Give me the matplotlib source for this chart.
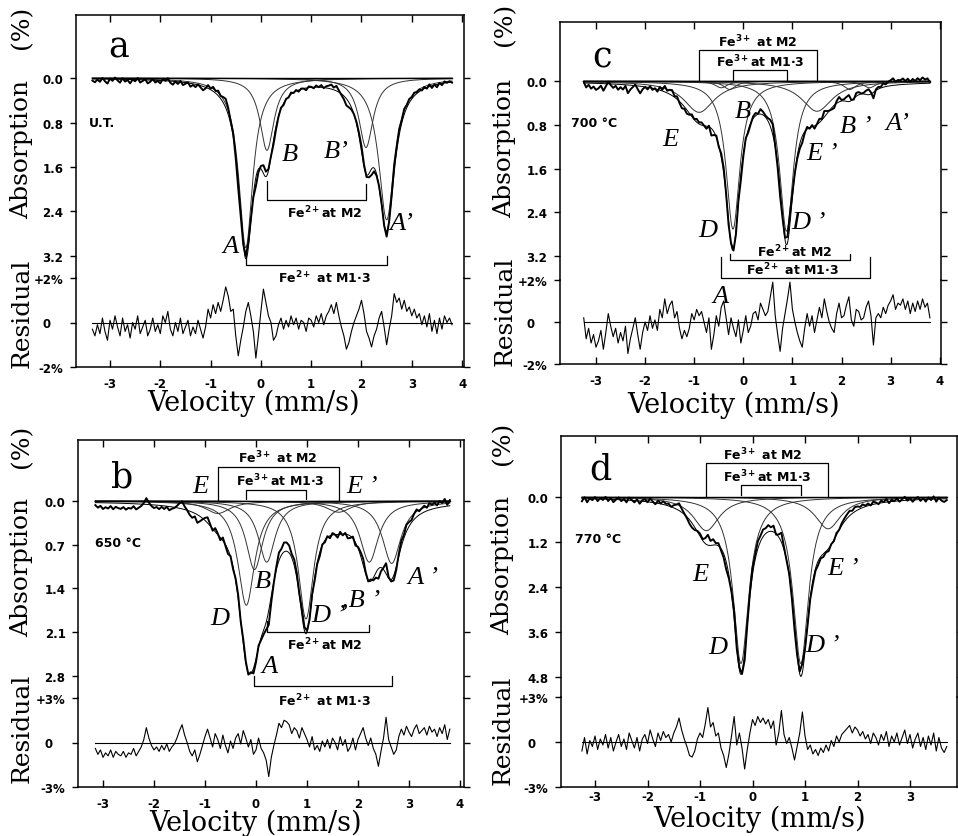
import numpy as np
import matplotlib
matplotlib.use("Agg")
import matplotlib.pyplot as plt

plt.rcParams['font.family'] = ['DejaVu Sans']
plt.rcParams['mathtext.fontset'] = 'dejavusans'

# ------------------------------------------------------------------ data
# Lorentzian sub-spectra: centre (mm/s), depth (% abs.), half width (mm/s)
a_centres = [-0.30, 2.50, 0.12, 2.09]          # A, A', B, B'
a_depths = [3.05, 2.55, 1.30, 1.25]
a_widths = [0.17, 0.19, 0.17, 0.17]

b_centres = [-0.03, 2.66, 0.21, 2.22, -0.19, 0.98, -0.75, 1.62]   # A A' B B' D D' E E'
b_depths = [1.10, 1.00, 0.98, 0.98, 1.67, 1.89, 0.20, 0.18]
b_widths = [0.20, 0.22, 0.20, 0.22, 0.20, 0.18, 0.30, 0.30]

c_centres = [-0.45, 2.57, -0.28, 2.17, -0.21, 0.88, -0.90, 1.50]  # A A' B B' D D' E E'
c_depths = [0.12, 0.12, 0.15, 0.15, 2.71, 2.75, 0.57, 0.55]
c_widths = [0.15, 0.15, 0.15, 0.15, 0.17, 0.17, 0.38, 0.38]

d_centres = [-0.22, 0.92, -0.88, 1.44]         # D D' E E'
d_depths = [4.45, 4.45, 0.90, 0.85]
d_widths = [0.18, 0.18, 0.30, 0.30]

# residuals (%) read every 0.05 mm/s
a_res_start = -3.35
a_resid = [
    -0.3, -0.6, -0.1, -0.5, 0.2, -0.4, -0.8, 0.1, -0.3, 0.3,
    -0.2, -0.6, 0.2, -0.4, -0.1, -0.7, 0.0, -0.3, 0.3, -0.5,
    -0.2, 0.1, -0.6, -0.3, 0.2, -0.4, -0.1, -0.5, 0.3, 0.0,
    0.5, -0.3, -0.6, 0.0, -0.4, 0.2, -0.5, -0.2, 0.1, -0.6,
    -0.2, -0.5, 0.1, -0.3, -0.7, -0.2, 0.6, 0.2, 0.8, 0.4,
    0.9, 0.5, 1.0, 1.6, 1.2, 0.5, 0.6, -0.6, -1.5, -0.8,
    -0.2, 0.5, 0.9, 0.3, -0.4, -1.6, -0.6, 0.5, 1.5, 0.9,
    0.3, 0.0, -0.8, -0.6, -0.1, 0.2, -0.3, 0.1, -0.2, 0.3,
    -0.1, 0.2, -0.3, 0.1, 0.0, -0.4, 0.2, 0.1, -0.2, 0.3,
    0.0, 0.4, -0.1, 0.3, 0.5, 0.8, 0.4, 0.9, 0.3, -0.2,
    -0.6, -1.2, -0.9, -0.4, 0.0, 0.3, 0.6, 1.0, 0.4, -0.4,
    -0.7, -1.1, -0.6, -0.3, 0.2, 0.5, -0.2, -1.0, -0.3, 0.3,
    1.3, 0.9, 1.1, 0.6, 1.0, 0.5, 0.7, 0.3, 0.6, 0.2,
    0.4, -0.1, 0.3, -0.2, 0.4, -0.4, 0.1, -0.5, 0.2, -0.3,
    0.3, 0.0, 0.2, -0.1]

b_res_start = -3.15
b_resid = [
    -0.4, -0.8, -0.5, -1.0, -0.7, -0.9, -0.5, -1.0, -0.6, -0.8,
    -0.9, -0.6, -1.0, -0.7, -0.8, -0.4, -0.9, -0.6, -0.3, 0.2,
    1.0, 0.3, -0.2, -0.5, -0.3, -0.6, -0.2, -0.5, -0.1, -0.6,
    -0.3, -0.1, 0.3, 0.8, 1.2, 0.5, 0.0, -0.6, -0.9, -0.5,
    -1.3, -0.8, -0.2, 0.4, 0.9, 0.3, -0.3, 0.6, 0.2, -0.4,
    0.5, -0.2, -0.7, 0.1, -0.4, 0.3, 0.6, -0.1, 0.8, 0.3,
    -0.3, 0.2, -0.8, -0.5, 0.3, -0.4, -0.7, -1.2, -2.3, -1.0,
    -0.2, 0.5, 1.3, 1.0, 1.5, 1.4, 1.2, 0.6, 1.0, 0.8,
    0.3, 1.0, 0.6, 0.2, -0.3, 0.4, -0.5, -0.2, -0.6, 0.1,
    -0.3, 0.2, -0.4, 0.3, 0.0, -0.5, 0.4, -0.2, 0.2, -0.6,
    -0.3, 0.3, -0.5, 0.2, 0.6, 1.0, 0.3, -0.2, 0.3, -0.4,
    -0.8, -1.6, -0.6, 0.3, 1.7, 0.2, -0.3, -0.8, -0.5, 0.4,
    0.9, 0.5, 1.1, 0.7, 0.4, 0.9, 1.2, 0.6, 0.8, 1.0,
    0.5, 1.1, 0.7, 0.9, 0.4, 1.0, 0.6, 1.2, 0.2, 0.9]

c_res_start = -3.25
c_resid = [
    0.2, -0.8, -0.3, -1.0, -0.6, -1.2, -0.9, -0.4, -1.3, -0.5,
    0.4, -0.2, -0.7, -0.3, -1.0, -0.5, -0.9, -0.2, -1.5, -0.8,
    -0.3, 0.2, -0.6, -1.3, -0.5, 0.0, -0.4, 0.3, -0.3, 0.1,
    -0.4, 0.6, 0.2, 1.1, 0.4, 0.8, 1.0, 0.2, 0.5, -0.3,
    -0.8, -0.4, -0.7, -0.3, 0.4, 0.1, 0.6, 0.3, 0.5, 0.0,
    -0.5, 0.2, -1.3, -0.6, 0.3, -0.2, 0.7, 1.0, 0.2, -0.6,
    0.2, -0.3, -0.7, 0.1, -1.0, -0.4, 0.3, -0.5, -0.2, 0.4,
    0.5, 0.1, 0.9, 0.6, 0.3, 0.5, 1.2, 1.9, 0.3, -0.6,
    -1.4, -0.3, 0.4, 1.1, 1.9, 0.6, 0.0, -0.5, -0.9, -1.2,
    -0.3, 0.4, -0.2, 0.3, -0.5, 0.1, 0.7, 0.2, 1.1, 0.5,
    0.0, -0.3, -0.5, 0.4, 0.9, 0.2, 0.3, 0.8, 1.2, 0.1,
    -0.2, 0.6, 0.5, 0.1, 0.2, 0.7, 1.0, 0.3, -1.1, 0.2,
    0.4, 0.2, 0.7, 0.4, 0.8, 1.0, 1.3, 0.6, 0.9, 0.8,
    1.1, 0.6, 1.0, 0.4, 0.9, 0.5, 1.0, 0.6, 1.1, 0.7,
    0.9, 0.2]

d_res_start = -3.25
d_resid = [
    -0.6, 0.3, -0.8, 0.1, -0.3, 0.4, -0.5, 0.2, -0.2, 0.5,
    -0.4, 0.3, -0.6, 0.0, 0.5, -0.3, 0.2, -0.5, 0.6, 0.1,
    -0.4, 0.3, -0.6, 0.2, 0.5, -0.1, 0.8, 0.2, -0.3, 0.6,
    0.1, 0.7, 0.3, 0.5, 0.0, 0.6, 1.0, 1.6, 0.8, 0.2,
    -0.3, -0.9, -1.0, -0.6, 0.2, 0.6, 0.3, 1.2, 2.3, 1.0,
    1.3, 0.4, 0.6, -0.4, -0.9, -1.7, -0.8, 0.4, 1.7, -0.2,
    0.6, -0.4, -1.8, -0.5, 0.6, 1.5, 1.1, 1.7, 1.3, 1.6,
    1.2, 1.5, 0.9, 1.4, -0.2, 0.6, 2.1, 0.5, -0.1, 0.3,
    -0.4, -1.2, -0.3, 0.6, 2.0, 0.4, -0.5, -0.2, -0.8, -0.5,
    -0.9, -0.4, -0.7, -0.2, -0.6, 0.1, -0.3, 0.4, 0.0, 0.5,
    0.7, 0.9, 1.1, 0.6, 1.0, 0.8, 0.4, 0.7, 0.2, 0.5,
    -0.1, 0.6, 0.3, -0.2, 0.5, 0.1, 0.7, -0.3, 0.4, 0.0,
    0.6, -0.2, 0.3, 0.8, -0.1, 0.5, -0.4, 0.2, 0.6, -0.3,
    0.3, -0.5, 0.4, -0.2, 0.6, -0.6, 0.3, -0.4, -0.7, -0.3]

a_yticks = [0.0, 0.8, 1.6, 2.4, 3.2]
b_yticks = [0.0, 0.7, 1.4, 2.1, 2.8]
c_yticks = [0.0, 0.8, 1.6, 2.4, 3.2]
d_yticks = [0.0, 1.2, 2.4, 3.6, 4.8]

# ------------------------------------------------------------------ drawing
W, H = 958, 837
fig = plt.figure(figsize=(W / 100, H / 100), dpi=100)

TICKFONT = dict(fontsize=8.5, fontweight='bold', family='DejaVu Sans')
LBL = dict(fontsize=9, fontweight='bold', family='DejaVu Sans')
ITAL = dict(fontsize=19, family='Liberation Serif', style='italic')


def px_axes(l, r, t, b):
    return fig.add_axes([l / W, 1 - b / H, (r - l) / W, (b - t) / H])


def lor(v, c, d, w):
    return d / (1.0 + ((v - c) / w) ** 2)


def panel(box, xlim, ylim, rlim, yticks, rlab, centres, depths, widths,
          res_start, resid, k, xticks, xpad=7):
    l, r, t, m, b = box
    axr = px_axes(l, r, m, b)
    ax = px_axes(l, r, t, m)
    ax.patch.set_visible(False)
    axr.patch.set_visible(False)
    ax.set_zorder(3)
    axr.set_zorder(2)
    vel = res_start + 0.05 * np.arange(len(resid))
    res = np.array(resid)
    vf = np.linspace(vel[0], vel[-1], 1200)
    fit_f = np.zeros_like(vf)
    fit_d = np.zeros_like(vel)
    for c, d, w in zip(centres, depths, widths):
        comp = lor(vf, c, d, w)
        fit_f += comp
        fit_d += lor(vel, c, d, w)
        ax.plot(vf, comp, color='0.2', lw=0.7, zorder=2)
    ax.plot([vel[0], vel[-1]], [0, 0], color='k', lw=1.0, zorder=2)
    ax.plot(vf, fit_f, color='k', lw=0.7, zorder=3)
    ax.plot(vel, fit_d - k * res, color='k', lw=1.4, zorder=4)
    axr.plot([vel[0], vel[-1]], [0, 0], color='k', lw=0.8)
    axr.plot(vel, res, color='k', lw=0.8)

    for a in (ax, axr):
        a.set_xlim(*xlim)
        for s in a.spines.values():
            s.set_linewidth(1.1)
    ax.set_ylim(*ylim)
    axr.set_ylim(*rlim)
    ax.spines['bottom'].set_visible(False)
    axr.spines['top'].set_visible(False)

    ax.set_xticks(xticks)
    ax.tick_params(axis='x', bottom=False, top=True, labelbottom=False,
                   direction='in', length=5, width=1)
    ax.set_yticks(yticks)
    ax.set_yticklabels(['%.1f' % y for y in yticks], **TICKFONT)
    ax.tick_params(axis='y', left=True, right=True, direction='out',
                   length=4, width=1, pad=5)

    axr.set_xticks(xticks)
    axr.set_xticklabels(['%d' % x for x in xticks], **TICKFONT)
    axr.tick_params(axis='x', bottom=True, top=False, direction='in',
                    length=5, width=1, pad=xpad)
    axr.set_yticks([rlim[1], 0, rlim[0]])
    axr.set_yticklabels(rlab, **TICKFONT)
    axr.tick_params(axis='y', left=True, right=True, direction='out',
                    length=4, width=1, pad=5)
    return ax, axr


def bracket(ax, x1, x2, y, e1, e2):
    ax.plot([x1, x1, x2, x2], [e1, y, y, e2], color='k', lw=0.9,
            clip_on=False, zorder=5)


def fe(ax, s, x, y, va='center'):
    ax.text(x, y, s, ha='center', va=va, clip_on=False, zorder=6, **LBL)


def it(ax, s, x, y):
    ax.text(x, y, s, ha='center', va='center', clip_on=False, zorder=6, **ITAL)


def big(ax, s, x, y):
    ax.text(x, y, s, ha='center', va='center', fontsize=25,
            family='DejaVu Serif')


def ylabel(x, yr, ya, yp):
    kw = dict(rotation=90, ha='center', va='center', family='DejaVu Serif',
              fontsize=18)
    fig.text(x / W, 1 - yr / H, 'Residual', **kw)
    fig.text(x / W, 1 - ya / H, 'Absorption', **kw)
    fig.text(x / W, 1 - yp / H, '(%)', **kw)


def xlabel(x, y):
    fig.text(x / W, 1 - y / H, 'Velocity (mm/s)', ha='center', va='center',
             family='DejaVu Serif', fontsize=19.5)


FE2M2 = 'Fe$^{\\mathbf{2+}}$at M2'
FE2M13 = 'Fe$^{\\mathbf{2+}}$ at M1·3'
FE3M2 = 'Fe$^{\\mathbf{3+}}$ at M2'
FE3M13 = 'Fe$^{\\mathbf{3+}}$at M1·3'

# ---------------- panel a
ax, axr = panel((76, 464, 16, 279, 368), (-3.676, 4.038), (3.596, -1.133),
                (-2, 2), a_yticks, ['+2%', '0   ', '-2%'],
                a_centres, a_depths, a_widths, a_res_start, a_resid, 0.10,
                list(range(-3, 5)))
big(ax, 'a', -2.82, -0.56)
ax.text(-3.42, 0.80, 'U.T.', ha='left', va='center', **LBL)
it(ax, 'B', 0.58, 1.37)
it(ax, 'B’', 1.49, 1.31)
it(ax, 'A', -0.61, 3.02)
it(ax, 'A’', 2.80, 2.60)
bracket(ax, a_centres[2], a_centres[3], 2.19, 1.85, 1.90)
fe(ax, FE2M2, 1.27, 2.41)
bracket(ax, a_centres[0], a_centres[1], 3.36, 3.20, 3.20)
fe(ax, FE2M13, 1.27, 3.58)
ylabel(22, 313, 149, 27)
xlabel(254, 403)

# ---------------- panel c
ax, axr = panel((560, 941, 23, 281, 365), (-3.733, 4.026), (3.643, -1.086),
                (-2, 2), c_yticks, ['+2%', '0   ', '-2%'],
                c_centres, c_depths, c_widths, c_res_start, c_resid, 0.10,
                list(range(-3, 5)))
big(ax, 'c', -2.88, -0.46)
ax.text(-3.51, 0.75, '700 °C', ha='left', va='center', **LBL)
bracket(ax, c_centres[6], c_centres[7], -0.57, 0.0, 0.0)
fe(ax, FE3M2, 0.30, -0.59, va='bottom')
bracket(ax, c_centres[4], c_centres[5], -0.20, -0.03, -0.03)
fe(ax, FE3M13, 0.35, -0.22, va='bottom')
bracket(ax, c_centres[2], c_centres[3], 3.27, 3.17, 3.17)
fe(ax, FE2M2, 1.05, 3.26, va='bottom')
bracket(ax, c_centres[0], c_centres[1], 3.60, 3.23, 3.23)
fe(ax, FE2M13, 1.01, 3.59, va='bottom')
it(ax, 'E', -1.48, 1.05)
it(ax, 'B', -0.01, 0.54)
it(ax, 'B ’', 2.28, 0.82)
it(ax, 'A’', 3.14, 0.76)
it(ax, 'E ’', 1.60, 1.31)
it(ax, 'D', -0.72, 2.72)
it(ax, 'D ’', 1.33, 2.58)
it(ax, 'A', -0.46, 3.94)
ylabel(505, 311, 148, 24)
xlabel(734, 405)

# ---------------- panel b
ax, axr = panel((78, 464, 441, 699, 788), (-3.49, 4.078), (3.156, -0.977),
                (-3, 3), b_yticks, ['+3%', '0   ', '-3%'],
                b_centres, b_depths, b_widths, b_res_start, b_resid, 0.10,
                list(range(-3, 5)))
big(ax, 'b', -2.63, -0.40)
ax.text(-3.16, 0.66, '650 °C', ha='left', va='center', **LBL)
bracket(ax, b_centres[6], b_centres[7], -0.55, 0.0, 0.0)
fe(ax, FE3M2, 0.43, -0.57, va='bottom')
bracket(ax, b_centres[4], b_centres[5], -0.18, -0.03, -0.03)
fe(ax, FE3M13, 0.47, -0.20, va='bottom')
bracket(ax, b_centres[2], b_centres[3], 2.10, 1.92, 1.99)
fe(ax, FE2M2, 1.35, 2.29)
bracket(ax, b_centres[0], b_centres[1], 2.97, 2.80, 2.80)
fe(ax, FE2M13, 1.35, 3.19)
it(ax, 'E', -1.10, -0.24)
it(ax, 'E ’', 2.08, -0.24)
it(ax, 'B', 0.14, 1.28)
it(ax, 'D', -0.71, 1.87)
it(ax, 'D ’', 1.42, 1.83)
it(ax, ',B ’', 2.05, 1.57)
it(ax, 'A ’', 3.27, 1.22)
it(ax, 'A', 0.26, 2.64)
ylabel(22, 728, 567, 446)
xlabel(256, 823)

# ---------------- panel d
ax, axr = panel((561, 957, 437, 698, 788), (-3.648, 3.895), (5.345, -1.63),
                (-3, 3), d_yticks, ['+3%', '0   ', '-3%'],
                d_centres, d_depths, d_widths, d_res_start, d_resid, 0.12,
                list(range(-3, 4)), xpad=2)
big(ax, 'd', -2.90, -0.75)
ax.text(-3.39, 1.12, '770 °C', ha='left', va='center', **LBL)
bracket(ax, d_centres[2], d_centres[3], -0.90, 0.0, 0.0)
fe(ax, FE3M2, 0.20, -0.93, va='bottom')
bracket(ax, d_centres[0], d_centres[1], -0.31, -0.04, -0.04)
fe(ax, FE3M13, 0.29, -0.34, va='bottom')
it(ax, 'E', -0.99, 2.06)
it(ax, 'E ’', 1.72, 1.90)
it(ax, 'D', -0.66, 4.01)
it(ax, 'D ’', 1.34, 3.96)
ylabel(503, 730, 565, 443)
xlabel(760, 819)

fig.savefig('out.png', dpi=100)
